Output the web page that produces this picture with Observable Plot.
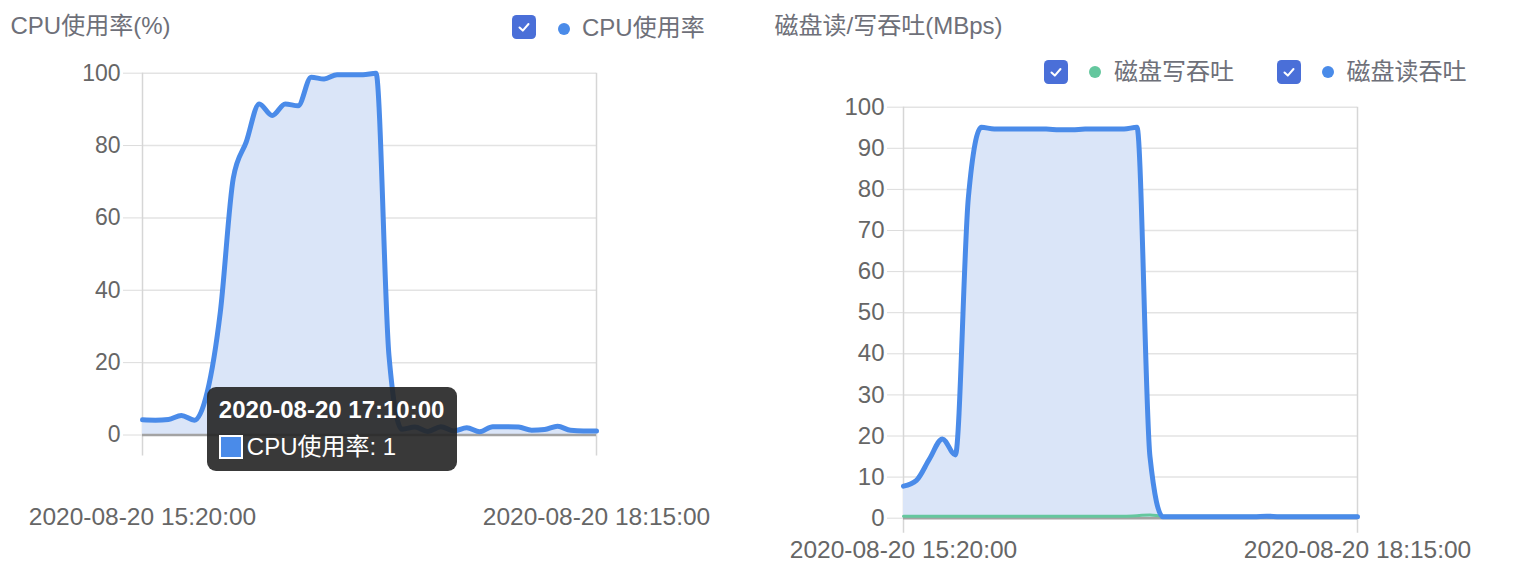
<!DOCTYPE html>
<html><head><meta charset="utf-8">
<script src="https://cdn.jsdelivr.net/npm/d3@7"></script>
<script src="https://cdn.jsdelivr.net/npm/@observablehq/plot@0.6"></script>
<style>
body{margin:0;background:#fff;font-family:"Liberation Sans","Noto Sans CJK SC",sans-serif;}
#root{position:relative;width:1518px;height:572px;overflow:hidden;background:#fff}
.panel{position:absolute;top:0}
.header{position:relative}
.t{position:absolute;font-size:24px;line-height:24px;color:#6e7079;white-space:nowrap}
.cb{position:absolute;width:24px;height:24px}
.dot{position:absolute;width:12px;height:12px;border-radius:6px}
.tip{position:absolute;background:rgba(35,35,35,0.9);border-radius:9px;color:#fff}
.tip div{position:absolute;white-space:nowrap;font-size:24px;line-height:24px}
.sq{position:absolute;width:20px;height:20px;border:2px solid #fff}
svg{overflow:visible}
</style></head>
<body><div id="root"></div>
<script>
// ---- data ----
const times = ["15:20","15:25","15:30","15:35","15:40","15:45","15:50","15:55","16:00","16:05","16:10","16:15",
  "16:20","16:25","16:30","16:35","16:40","16:45","16:50","16:55","17:00","17:05","17:10","17:15",
  "17:20","17:25","17:30","17:35","17:40","17:45","17:50","17:55","18:00","18:05","18:10","18:15"];
const day = "2020-08-20";
const cpuValues = [4.2,4.1,4.3,5.4,4.1,12,34,71,81,91.5,88.3,91.5,91,98.9,98.4,99.6,99.6,99.6,100,22,
  1.6,2.2,1,2.3,1.1,2.0,0.9,2.3,2.3,2.2,1.3,1.5,2.4,1.3,1.1,1.1];
const diskReadValues = [7.8,9.2,14.4,19.3,15.4,78,95.1,94.7,94.7,94.7,94.7,94.7,94.5,94.5,94.7,94.7,94.7,94.7,95.1,15,
  0.35,0.35,0.35,0.35,0.35,0.35,0.35,0.35,0.5,0.35,0.35,0.35,0.35,0.35,0.35,0.35];
const diskWriteValues = [0.5,0.5,0.5,0.5,0.5,0.5,0.5,0.5,0.5,0.5,0.5,0.5,0.5,0.5,0.5,0.5,0.5,0.5,0.6,0.8,
  0.5,0.5,0.5,0.5,0.5,0.5,0.5,0.5,0.5,0.5,0.5,0.5,0.5,0.5,0.5,0.5];
const cpuTicks = [0,20,40,60,80,100];
const diskTicks = [0,10,20,30,40,50,60,70,80,90,100];
const cpuTitle = "CPU使用率(%)";
const cpuSeries = "CPU使用率";
const diskTitle = "磁盘读/写吞吐(MBps)";
const writeSeries = "磁盘写吞吐";
const readSeries = "磁盘读吞吐";
const tipIndex = 22;

// ---- build ----
const parse = d3.timeParse("%Y-%m-%d %H:%M");
const fmt = d3.timeFormat("%Y-%m-%d %H:%M:%S");
const dates = times.map(t => parse(day + " " + t));
const cpu = dates.map((t,i) => ({t, v: cpuValues[i]}));
const rd = dates.map((t,i) => ({t, v: diskReadValues[i]}));
const wr = dates.map((t,i) => ({t, v: diskWriteValues[i]}));
const xEnds = [dates[0], dates[dates.length-1]];

const BLUE = "#4a8be9", FILL = "#dae5f8", GREEN = "#64c79e", CB = "#4a6fd8";
const FONT = '"Liberation Sans","Noto Sans CJK SC",sans-serif';
const root = document.getElementById("root");

function checkbox(x, y){
  return `<svg class="cb" style="left:${x}px;top:${y}px" width="24" height="24"><rect width="24" height="24" rx="4.5" fill="${CB}"/><path d="M7.5 12.5 L10.8 15.6 L16.5 9" stroke="#fff" stroke-width="2" fill="none" stroke-linecap="round" stroke-linejoin="round"/></svg>`;
}

// Left panel
const left = document.createElement("div");
left.className = "panel"; left.style.left = "0px"; left.style.width = "760px";
left.innerHTML = `<div class="header" style="height:50px">
  <div class="t" style="left:10.5px;top:14px">${cpuTitle}</div>
  ${checkbox(512,15)}
  <div class="dot" style="left:558px;top:23px;background:${BLUE}"></div>
  <div class="t" style="left:582px;top:16px">${cpuSeries}</div>
</div>`;
root.appendChild(left);

const chartL = Plot.plot({
  width: 760, height: 522,
  marginTop: 22.7, marginBottom: 137.5, marginLeft: 142, marginRight: 164,
  style: {fontFamily: FONT, background: "transparent", overflow: "visible"},
  x: {type: "time", domain: xEnds},
  y: {domain: [0, 100]},
  marks: [
    Plot.ruleY(cpuTicks.filter(d => d > 0), {stroke: "#e3e3e3", strokeWidth: 1.5}),
    Plot.ruleX(xEnds, {stroke: "#d6d6d6", strokeWidth: 1.5, insetBottom: -21}),
    Plot.areaY(cpu, {x: "t", y: "v", fill: FILL, curve: "monotone-x"}),
    Plot.ruleY([0], {stroke: "#a3a3a3", strokeWidth: 2.5}),
    Plot.lineY(cpu, {x: "t", y: "v", stroke: BLUE, strokeWidth: 5, curve: "monotone-x"}),
    Plot.axisY({ticks: cpuTicks, tickSize: 19, tickPadding: 3, stroke: "#dcdcdc", fill: "#666", fontSize: 23, label: null}),
    Plot.axisX({ticks: xEnds, tickFormat: fmt, tickSize: 0, tickPadding: 73, fill: "#666", fontSize: 24.5, label: null})
  ]
});
left.appendChild(chartL);

// Tooltip anchored to the data point through the scales
const tx = chartL.scale("x").apply(dates[tipIndex]);
const ty = chartL.scale("y").apply(cpuValues[tipIndex]) + 50;
const tip = document.createElement("div");
tip.className = "tip";
tip.style.cssText = `left:${tx-220}px;top:${ty-44}px;width:250px;height:84px`;
tip.innerHTML = `<div style="left:11.5px;top:11px;font-weight:bold">${fmt(dates[tipIndex])}</div>
  <span class="sq" style="left:11.5px;top:48px;background:${BLUE}"></span>
  <div style="left:39.5px;top:48px">${cpuSeries}: ${cpuValues[tipIndex]}</div>`;
left.appendChild(tip);

// Right panel
const right = document.createElement("div");
right.className = "panel"; right.style.left = "760px"; right.style.width = "758px";
right.innerHTML = `<div class="header" style="height:95px">
  <div class="t" style="left:14.5px;top:14px">${diskTitle}</div>
  ${checkbox(284,60)}
  <div class="dot" style="left:329px;top:66px;background:${GREEN}"></div>
  <div class="t" style="left:354px;top:60px">${writeSeries}</div>
  ${checkbox(517,60)}
  <div class="dot" style="left:561.5px;top:66px;background:${BLUE}"></div>
  <div class="t" style="left:586.5px;top:60px">${readSeries}</div>
</div>`;
root.appendChild(right);

const chartR = Plot.plot({
  width: 758, height: 477,
  marginTop: 11.7, marginBottom: 54.3, marginLeft: 143, marginRight: 161,
  style: {fontFamily: FONT, background: "transparent", overflow: "visible"},
  x: {type: "time", domain: xEnds},
  y: {domain: [0, 100]},
  marks: [
    Plot.ruleY(diskTicks.filter(d => d > 0), {stroke: "#e3e3e3", strokeWidth: 1.5}),
    Plot.ruleX(xEnds, {stroke: "#d6d6d6", strokeWidth: 1.5, insetBottom: -15}),
    Plot.areaY(rd, {x: "t", y: "v", fill: FILL, curve: "monotone-x"}),
    Plot.ruleY([0], {stroke: "#a3a3a3", strokeWidth: 2.5}),
    Plot.lineY(wr, {x: "t", y: "v", stroke: GREEN, strokeWidth: 3, curve: "monotone-x"}),
    Plot.lineY(rd, {x: "t", y: "v", stroke: BLUE, strokeWidth: 5, curve: "monotone-x"}),
    Plot.axisY({ticks: diskTicks, tickSize: 16, tickPadding: 3, stroke: "#dcdcdc", fill: "#666", fontSize: 24, label: null}),
    Plot.axisX({ticks: xEnds, tickFormat: fmt, tickSize: 0, tickPadding: 22.7, fill: "#666", fontSize: 24.5, label: null})
  ]
});
right.appendChild(chartR);
</script></body></html>
